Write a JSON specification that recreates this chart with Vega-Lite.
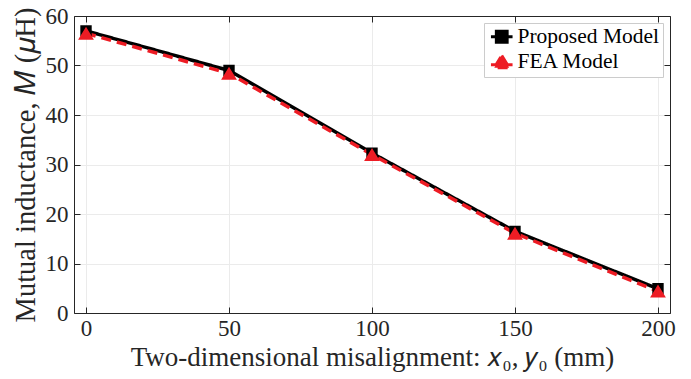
{
  "$schema": "https://vega.github.io/schema/vega-lite/v6.json",
  "width": 596,
  "height": 297,
  "autosize": {"type": "none"},
  "padding": {"left": 74, "top": 16, "right": 21, "bottom": 66},
  "background": "white",
  "config": {
    "view": {"stroke": null},
    "font": "Liberation Serif",
    "axis": {
      "labelFont": "Liberation Serif",
      "titleFont": "Liberation Serif",
      "labelFontSize": 23,
      "titleFontSize": 27,
      "titleFontWeight": "normal",
      "labelColor": "#262626",
      "titleColor": "#262626",
      "domainColor": "#262626",
      "tickColor": "#262626",
      "gridColor": "#ebebeb",
      "gridWidth": 1,
      "domainWidth": 1,
      "tickWidth": 1,
      "tickSize": -6
    },
    "legend": {
      "labelFont": "Liberation Serif",
      "labelFontSize": 21.5,
      "labelColor": "#000000"
    }
  },
  "data": {
    "values": [
      {"x": 0, "M": 57.0, "series": "Proposed Model"},
      {"x": 50, "M": 49.0, "series": "Proposed Model"},
      {"x": 100, "M": 32.3, "series": "Proposed Model"},
      {"x": 150, "M": 16.5, "series": "Proposed Model"},
      {"x": 200, "M": 4.9, "series": "Proposed Model"},
      {"x": 0, "M": 56.5, "series": "FEA Model"},
      {"x": 50, "M": 48.4, "series": "FEA Model"},
      {"x": 100, "M": 32.0, "series": "FEA Model"},
      {"x": 150, "M": 16.1, "series": "FEA Model"},
      {"x": 200, "M": 4.4, "series": "FEA Model"}
    ]
  },
  "layer": [
    {
      "mark": {"type": "line", "strokeWidth": 3.5},
      "encoding": {
        "x": {
          "field": "x", "type": "quantitative",
          "scale": {"domain": [-4.2, 204.2], "nice": false, "zero": false},
          "axis": {"orient": "bottom", "values": [0, 50, 100, 150, 200], "labelPadding": 10, "titlePadding": 4,
                   "title": "Two-dimensional misalignment: 𝑥₀, 𝑦₀ (mm)", "grid": true, "labelFlush": false}
        },
        "y": {
          "field": "M", "type": "quantitative",
          "scale": {"domain": [0, 60], "nice": false},
          "axis": {"orient": "left", "values": [0, 10, 20, 30, 40, 50, 60], "labelPadding": 12, "titlePadding": 5,
                   "title": "Mutual inductance, 𝑀 (𝜇H)", "titleFontSize": 28.5, "grid": true}
        },
        "color": {
          "field": "series", "type": "nominal",
          "scale": {"domain": ["Proposed Model", "FEA Model"], "range": ["#000000", "#ed1c24"]}
        },
        "strokeDash": {
          "field": "series", "type": "nominal",
          "scale": {"domain": ["Proposed Model", "FEA Model"], "range": [[1, 0], [10, 6]]},
          "legend": null
        }
      }
    },
    {
      "mark": {"type": "point", "filled": true, "opacity": 1, "size": 160},
      "encoding": {
        "x": {"field": "x", "type": "quantitative", "axis": null},
        "y": {"field": "M", "type": "quantitative", "axis": null},
        "color": {
          "field": "series", "type": "nominal",
          "scale": {"domain": ["Proposed Model", "FEA Model"], "range": ["#000000", "#ed1c24"]},
          "legend": {
            "title": null,
            "orient": "top-right",
            "offset": 7,
            "padding": 3,
            "rowPadding": 0,
            "fillColor": "white",
            "strokeColor": "#cccccc",
            "symbolSize": 144,
            "symbolStrokeWidth": 3,
            "symbolOffset": 4,
            "labelOffset": 5,
            "encode": {
              "symbols": {
                "update": {
                  "stroke": {"signal": "datum.value === 'Proposed Model' ? '#000000' : '#ed1c24'"},
                  "strokeWidth": {"value": 3}
                }
              }
            }
          }
        },
        "shape": {
          "field": "series", "type": "nominal",
          "scale": {"domain": ["Proposed Model", "FEA Model"],
                    "range": ["M-1.8,0H1.8M-0.9,-0.9H0.9V0.9H-0.9Z", "M-1.8,0.5H1.8M0,-1.05L1.25,1.0H-1.25Z"]}
        }
      }
    },
    {
      "mark": {"type": "point", "opacity": 0},
      "encoding": {
        "x": {"field": "x", "type": "quantitative",
              "axis": {"orient": "top", "values": [0, 50, 100, 150, 200], "labels": false, "title": null, "grid": false}},
        "y": {"field": "M", "type": "quantitative",
              "axis": {"orient": "right", "values": [0, 10, 20, 30, 40, 50, 60], "labels": false, "title": null, "grid": false}}
      }
    }
  ],
  "resolve": {"axis": {"x": "independent", "y": "independent"}}
}
